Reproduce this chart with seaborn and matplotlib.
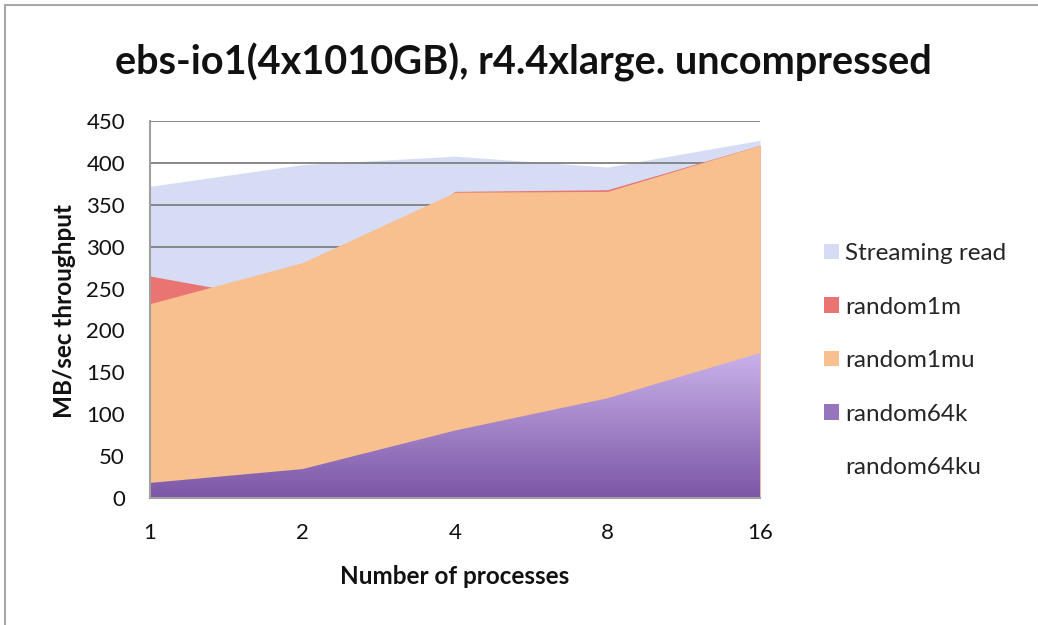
import numpy as np
import matplotlib
matplotlib.use("Agg")
import matplotlib.pyplot as plt
import seaborn as sns
from matplotlib.patches import Patch
from matplotlib.colors import LinearSegmentedColormap
from matplotlib.lines import Line2D

# ---- data ----
processes = ["1", "2", "4", "8", "16"]
streaming_read = [372, 398, 408, 395, 427]
random1m = [265, 232, 366, 368, 421]
random1mu = [232, 281, 365, 366, 421]
random64k = [18, 34.5, 80.5, 119, 173]
random64ku = [0, 0, 0, 0, 0]
series_names = ["Streaming read", "random1m", "random1mu", "random64k", "random64ku"]
y_ticks = [0, 50, 100, 150, 200, 250, 300, 350, 400, 450]

sns.set_theme(style="white")
plt.rcParams['font.family'] = ['Lato', 'DejaVu Sans']

W, H = 1038, 625
fig = plt.figure(figsize=(W / 100, H / 100), dpi=100)
ax = fig.add_axes([150 / W, 1 - 498 / H, (760 - 150) / W, (498 - 121) / H])

x = np.arange(len(processes))
colors = {
    "Streaming read": "#d6dcf4",
    "random1m": "#e97472",
    "random1mu": "#f8bf8f",
    "random64k": "#9576bd",
    "random64ku": "#ffffff",
}
zorders = {"Streaming read": 0.3, "random1m": 2, "random1mu": 2.1,
           "random64k": 2.2, "random64ku": 2.3}
values = [streaming_read, random1m, random1mu, random64k, random64ku]

for name, vals in zip(series_names, values):
    poly = ax.fill_between(x, 0, vals, color=colors[name], linewidth=0,
                           zorder=zorders[name])
    if name == "random64k":
        cmap = LinearSegmentedColormap.from_list("pg", ["#7c56a6", "#c9b1ea"])
        grad = np.linspace(0, 1, 256).reshape(-1, 1)
        img = ax.imshow(grad, cmap=cmap, origin="lower", aspect="auto",
                        extent=[0, len(x) - 1, 0, max(vals)], zorder=2.25)
        img.set_clip_path(poly.get_paths()[0], transform=ax.transData)
        poly.set_alpha(0)

ax.set_xlim(0, len(x) - 1)
ax.set_ylim(0, 450)
ax.set_xticks(x)
ax.set_xticklabels(processes)
ax.set_yticks(y_ticks)
ax.set_axisbelow(True)
ax.yaxis.grid(True, color="#7f7f7f", linewidth=1.3)
ax.xaxis.grid(False)
for s in ["top", "right"]:
    ax.spines[s].set_visible(False)
for s in ["left", "bottom"]:
    ax.spines[s].set_color("#a0a0a0")
    ax.spines[s].set_linewidth(1.5)
    ax.spines[s].set_zorder(3)
ax.tick_params(axis="both", which="both", direction="out", length=7, width=1.3,
               color="#a0a0a0", labelsize=16, labelcolor="#111111")
ax.tick_params(axis="y", pad=11)
ax.tick_params(axis="x", pad=11)

fig.text(523 / W, 1 - 74 / H, "ebs-io1(4x1010GB), r4.4xlarge. uncompressed",
         ha="center", va="baseline", fontsize=28.5, fontweight="bold", color="#111111")
fig.text(455 / W, 1 - 576 / H, "Number of processes", ha="center", va="center",
         fontsize=17.5, fontweight="bold", color="#111111")
fig.text(65 / W, 1 - 311 / H, "MB/sec throughput", ha="center", va="center",
         rotation=90, fontsize=17.5, fontweight="bold", color="#111111")

handles = [Patch(facecolor=colors[n], edgecolor="none") for n in series_names]
handles[3] = Patch(facecolor="#9576bd", edgecolor="none")
fig.legend(handles, series_names, loc="upper left",
           bbox_to_anchor=(824 / W, 1 - 243 / H), frameon=False, fontsize=17.5,
           labelspacing=1.34, handlelength=0.62, handleheight=0.62,
           handletextpad=0.25, borderaxespad=0, borderpad=0)

# frame lines of the screenshot
fig.add_artist(Line2D([5 / W, 5 / W], [0, 1 - 5 / H], transform=fig.transFigure,
                      color="#a8a8a8", linewidth=1.5))
fig.add_artist(Line2D([5 / W, 1], [1 - 5 / H, 1 - 5 / H], transform=fig.transFigure,
                      color="#a8a8a8", linewidth=1.5))

fig.savefig("out.png", dpi=100)
